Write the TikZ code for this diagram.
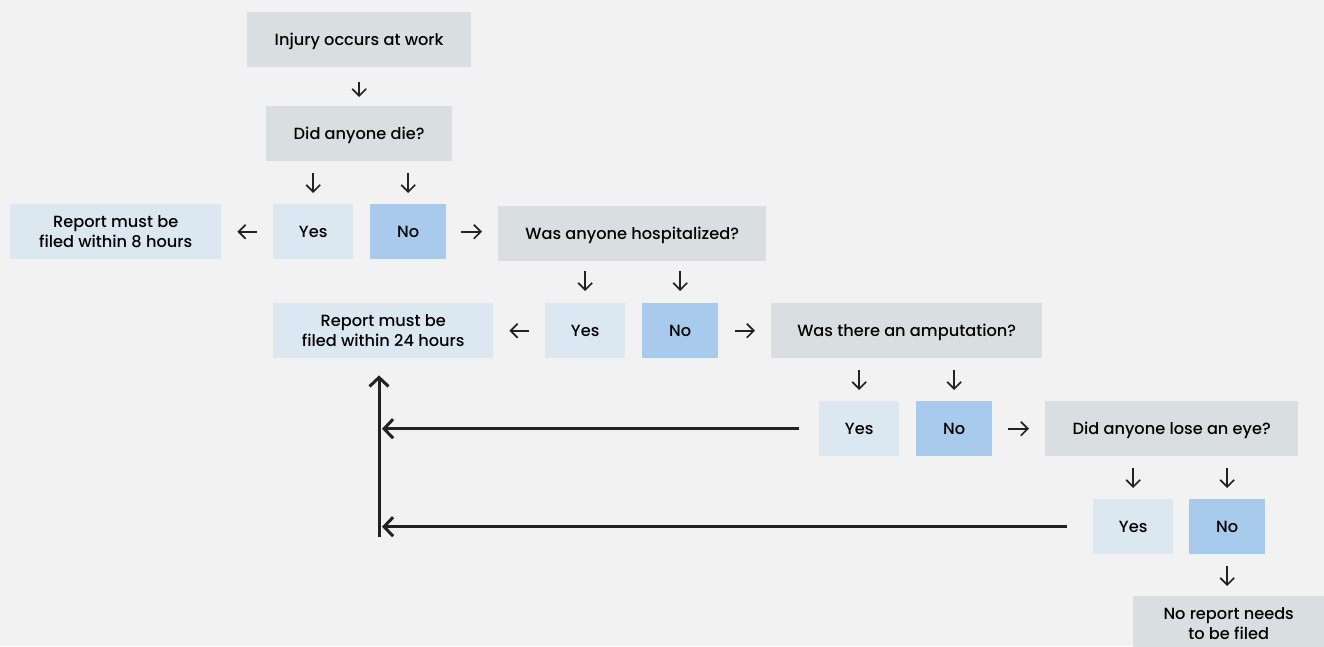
\documentclass[tikz,border=0pt]{standalone}
\usepackage{fontspec}
\setmainfont{Poppins}[UprightFont=* Medium]
\usetikzlibrary{arrows.meta}
\definecolor{bgc}{HTML}{F2F2F2}
\definecolor{grayc}{HTML}{D9DEE0}
\definecolor{lightc}{HTML}{DCE8F1}
\definecolor{midc}{HTML}{A8CAEC}
\definecolor{inkc}{HTML}{222222}
\tikzset{
  box/.style={anchor=north west, inner sep=0pt, minimum height=55, align=center,
    text=black, font=\fontsize{16.2}{19.5}\selectfont},
  one/.style={text height=13.4pt, text depth=2pt},
  gbox/.style={box, fill=grayc},
  lbox/.style={box, fill=lightc},
  mbox/.style={box, fill=midc},
  sarr/.style={draw=inkc, line width=1.7pt, -{Straight Barb[length=7pt,width=14pt]}},
  barr/.style={draw=inkc, line width=3pt, -{Straight Barb[length=9pt,width=19pt]}},
}
\begin{document}
\begin{tikzpicture}[x=1pt,y=-1pt]
\fill[bgc] (0,0) rectangle (1324,646);
\useasboundingbox (0,0) rectangle (1324,646);
\begin{scope}
\clip (0,0) rectangle (1324,646);
% nodes
\node[gbox, one, minimum width=224] (inj) at (247,12) {Injury occurs at work};
\node[gbox, one, minimum width=186] (die) at (266,106) {Did anyone die?};
\node[lbox, one, minimum width=80] (yes1) at (273,204) {Yes};
\node[mbox, one, minimum width=76] (no1) at (370,204) {No};
\node[lbox, minimum width=211] (rep8) at (10,204) {Report must be\\filed within 8 hours};
\node[gbox, one, minimum width=268] (hosp) at (498,206) {Was anyone hospitalized?};
\node[lbox, one, minimum width=80] (yes2) at (545,303) {Yes};
\node[mbox, one, minimum width=76] (no2) at (642,303) {No};
\node[lbox, minimum width=220] (rep24) at (273,303) {Report must be\\filed within 24 hours};
\node[gbox, one, minimum width=271] (amp) at (771,303) {Was there an amputation?};
\node[lbox, one, minimum width=80] (yes3) at (819,401) {Yes};
\node[mbox, one, minimum width=76] (no3) at (916,401) {No};
\node[gbox, one, minimum width=253] (eye) at (1045,401) {Did anyone lose an eye?};
\node[lbox, one, minimum width=80] (yes4) at (1093,499) {Yes};
\node[mbox, one, minimum width=76] (no4) at (1189,499) {No};
\node[gbox, minimum width=191] (norep) at (1133,596) {No report needs\\to be filed};
\coordinate (tb) at (379,537);
% small arrows
\draw[sarr, shorten <=15, shorten >=9] (inj.south) -- (inj.south |- die.north);
\draw[sarr, shorten <=12, shorten >=11] (die.south -| yes1.north) -- (yes1.north);
\draw[sarr, shorten <=12, shorten >=11] (die.south -| no1.north) -- (no1.north);
\draw[sarr, shorten <=16, shorten >=16] (yes1.west) -- (yes1.west -| rep8.east);
\draw[sarr, shorten <=15, shorten >=16] (no1.east) -- (no1.east -| hosp.west);
\draw[sarr, shorten <=10, shorten >=12] (hosp.south -| yes2.north) -- (yes2.north);
\draw[sarr, shorten <=10, shorten >=12] (hosp.south -| no2.north) -- (no2.north);
\draw[sarr, shorten <=16, shorten >=16] (yes2.west) -- (yes2.west -| rep24.east);
\draw[sarr, shorten <=17, shorten >=16] (no2.east) -- (no2.east -| amp.west);
\draw[sarr, shorten <=12, shorten >=11] (amp.south -| yes3.north) -- (yes3.north);
\draw[sarr, shorten <=12, shorten >=11] (amp.south -| no3.north) -- (no3.north);
\draw[sarr, shorten <=16, shorten >=16] (no3.east) -- (no3.east -| eye.west);
\draw[sarr, shorten <=12, shorten >=11] (eye.south -| yes4.north) -- (yes4.north);
\draw[sarr, shorten <=12, shorten >=11] (eye.south -| no4.north) -- (no4.north);
\draw[sarr, shorten <=12, shorten >=10] (no4.south) -- (no4.south |- norep.north);
% long arrows
\draw[barr, shorten <=20, shorten >=3] (yes3.west) -- (yes3.west -| tb);
\draw[barr, shorten <=26, shorten >=3] (yes4.west) -- (yes4.west -| tb);
\draw[barr, shorten >=17] (tb) -- (tb |- rep24.south);
\end{scope}
\end{tikzpicture}
\end{document}
